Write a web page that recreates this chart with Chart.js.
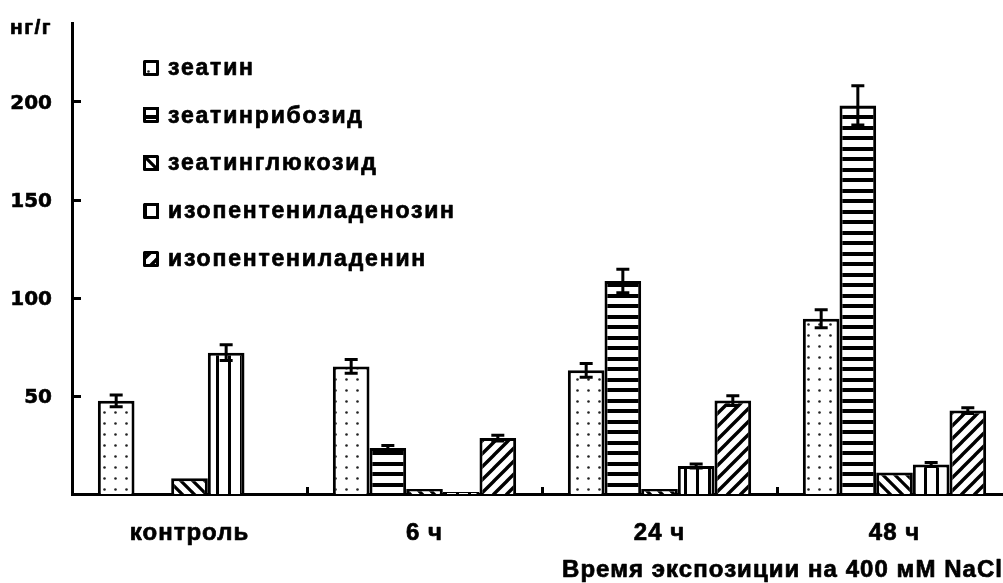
<!DOCTYPE html>
<html>
<head>
<meta charset="utf-8">
<title>Цитокинины</title>
<script src="https://cdn.jsdelivr.net/npm/chart.js@4.4.1/dist/chart.umd.min.js"></script>
<style>
  html, body { margin: 0; padding: 0; background: #fff; overflow: hidden; }
  #wrap { width: 1003px; height: 583px; overflow: hidden; position: relative; }
  canvas { display: block; }
</style>
</head>
<body>
<div id="wrap"><canvas id="chart" width="1012" height="583"></canvas></div>
<script>
// Categories (exposure time) and series
const categories = ['контроль', '6 ч', '24 ч', '48 ч'];
const seriesNames = ['зеатин', 'зеатинрибозид', 'зеатинглюкозид', 'изопентениладенозин', 'изопентениладенин'];

// Concentrations, ng/g
const zeatin          = [47.5, 65, 63, 89.3];
const zeatinRiboside  = [0, 23.5, 108.5, 198];
const zeatinGlucoside = [8, 2.5, 2.5, 11];
const ipAdenosine     = [72, 1, 14.3, 15];
const ipAdenine       = [0, 28.5, 47.6, 42.5];

// Standard errors
const zeatinErr          = [3, 3.5, 3.5, 4.6];
const zeatinRibosideErr  = [0, 1.2, 6, 10];
const zeatinGlucosideErr = [0, 0, 0, 0];
const ipAdenosineErr     = [4, 0, 1, 1];
const ipAdenineErr       = [0, 1.5, 2.5, 1.5];

// Axis ticks and titles
const yTicks = [50, 100, 150, 200];
const yMax = 240;
const yUnit = 'нг/г';
const xTitle = 'Время экспозиции на 400 мМ NaCl';

const seriesValues = [zeatin, zeatinRiboside, zeatinGlucoside, ipAdenosine, ipAdenine];
const seriesErrors = [zeatinErr, zeatinRibosideErr, zeatinGlucosideErr, ipAdenosineErr, ipAdenineErr];

const canvas = document.getElementById('chart');
const ctx = canvas.getContext('2d');

// ---- fill patterns ----
function tile(w, h, draw) {
  const c = document.createElement('canvas');
  c.width = w; c.height = h;
  const g = c.getContext('2d');
  g.fillStyle = '#fff';
  g.fillRect(0, 0, w, h);
  g.fillStyle = '#000';
  g.strokeStyle = '#000';
  draw(g, w, h);
  return ctx.createPattern(c, 'repeat');
}
function diagonal(g, s, dir, lw) {
  g.lineWidth = lw;
  g.beginPath();
  for (const k of [-s, 0, s]) {
    if (dir === '/') { g.moveTo(k - 1, s + 1); g.lineTo(k + s + 1, -1); }
    else { g.moveTo(k - 1, -1); g.lineTo(k + s + 1, s + 1); }
  }
  g.stroke();
}
const patterns = [
  // sparse dots
  tile(11, 11, (g) => { g.fillStyle = '#222'; g.beginPath(); g.arc(5.5, 5.5, 1.3, 0, Math.PI * 2); g.fill(); }),
  // horizontal stripes
  tile(4, 21, (g) => { g.fillRect(0, 0, 4, 4); g.fillRect(0, 10, 4, 4); }),
  // backslash diagonals
  tile(12, 12, (g, s) => diagonal(g, s, '\\', 3.2)),
  // vertical stripes
  tile(12, 4, (g) => { g.fillRect(0, 0, 3, 4); }),
  // slash diagonals
  tile(13, 13, (g, s) => diagonal(g, s, '/', 3.4))
];

const FONT = "'Liberation Sans', Arial, sans-serif";

// heavy text: fill plus a thin outline
function heavyText(c, text, x, y) {
  c.fillText(text, x, y);
  c.strokeText(text, x, y);
}

// error bars, axis tick marks, legend and text labels
const decorations = {
  id: 'decorations',
  afterDatasetsDraw(chart) {
    const c = chart.ctx;
    const y = chart.scales.y;
    c.save();
    c.strokeStyle = '#000';
    c.lineWidth = 3;
    chart.data.datasets.forEach((ds, i) => {
      const meta = chart.getDatasetMeta(i);
      meta.data.forEach((bar, j) => {
        const err = seriesErrors[i][j];
        if (!err) return;
        const v = ds.data[j];
        const yt = y.getPixelForValue(v + err);
        const yb = y.getPixelForValue(Math.max(0, v - err));
        const half = 6.5;
        c.beginPath();
        c.moveTo(bar.x, yt); c.lineTo(bar.x, yb);
        c.moveTo(bar.x - half, yt); c.lineTo(bar.x + half, yt);
        c.moveTo(bar.x - half, yb); c.lineTo(bar.x + half, yb);
        c.stroke();
      });
    });
    c.restore();
  },
  afterDraw(chart) {
    const c = chart.ctx;
    const area = chart.chartArea;
    const x = chart.scales.x;
    const y = chart.scales.y;
    c.save();
    c.strokeStyle = '#000';
    c.lineWidth = 3;
    // inward y tick marks
    c.beginPath();
    yTicks.forEach(v => {
      const py = Math.round(y.getPixelForValue(v)) + 0.5;
      c.moveTo(area.left, py); c.lineTo(area.left + 9, py);
    });
    // category separators on the x axis
    for (let i = 0; i < categories.length; i++) {
      const px = Math.round((x.getPixelForValue(i) + x.getPixelForValue(i + 1)) / 2) + 0.5;
      c.moveTo(px, area.bottom); c.lineTo(px, area.bottom - 7);
    }
    c.stroke();

    c.fillStyle = '#000';
    c.lineWidth = 0.7;
    c.lineJoin = 'round';
    // category labels
    c.font = `bold 24px ${FONT}`;
    c.letterSpacing = '1px';
    c.textAlign = 'center';
    c.textBaseline = 'alphabetic';
    categories.forEach((lab, i) => {
      heavyText(c, lab, x.getPixelForValue(i), 540);
    });
    // axis titles
    c.textAlign = 'left';
    c.font = `bold 24px ${FONT}`;
    c.letterSpacing = '1.05px';
    heavyText(c, xTitle, 562, 577);
    c.font = `bold 21px ${FONT}`;
    c.letterSpacing = '1.5px';
    heavyText(c, yUnit, 10, 34);

    // legend
    c.font = `bold 23px ${FONT}`;
    c.letterSpacing = '1.8px';
    c.textBaseline = 'middle';
    chart.data.datasets.forEach((ds, i) => {
      const cy = 67.5 + i * 47.8;
      const bx = 143, by = Math.round(cy - 8);
      c.fillStyle = ds.backgroundColor;
      c.fillRect(bx, by, 16, 16);
      c.lineWidth = 3;
      c.strokeRect(bx + 1.5, by + 1.5, 13, 13);
      c.fillStyle = '#000';
      c.lineWidth = 0.7;
      heavyText(c, ds.label, 168, cy + 1);
    });
    c.restore();
  }
};

new Chart(ctx, {
  type: 'bar',
  data: {
    labels: categories,
    datasets: seriesNames.map((name, i) => ({
      label: name,
      data: seriesValues[i],
      backgroundColor: patterns[i],
      borderColor: '#000',
      borderWidth: 3,
      barPercentage: 1.0,
      categoryPercentage: 0.78
    }))
  },
  options: {
    responsive: false,
    animation: false,
    devicePixelRatio: 1,
    layout: { padding: { top: 23, left: 0, right: 0, bottom: 0 } },
    plugins: { legend: { display: false }, tooltip: { enabled: false } },
    scales: {
      x: {
        type: 'category',
        grid: { display: false, drawTicks: false },
        border: { display: true, color: '#000', width: 3 },
        ticks: { display: false },
        afterFit(scale) { scale.height = 89; scale.paddingLeft = 0; scale.paddingRight = 0; }
      },
      y: {
        min: 0,
        max: yMax,
        grid: { display: false, drawTicks: false },
        border: { display: true, color: '#000', width: 3 },
        afterBuildTicks(scale) { scale.ticks = yTicks.map(v => ({ value: v })); },
        ticks: {
          color: '#000',
          padding: 20,
          labelOffset: 2,
          textStrokeColor: '#000',
          textStrokeWidth: 0.6,
          font: { family: "'DejaVu Sans', sans-serif", weight: 'bold', size: 20 }
        },
        afterFit(scale) { scale.width = 72; scale.paddingTop = 0; scale.paddingBottom = 0; }
      }
    }
  },
  plugins: [decorations]
});
</script>
</body>
</html>
